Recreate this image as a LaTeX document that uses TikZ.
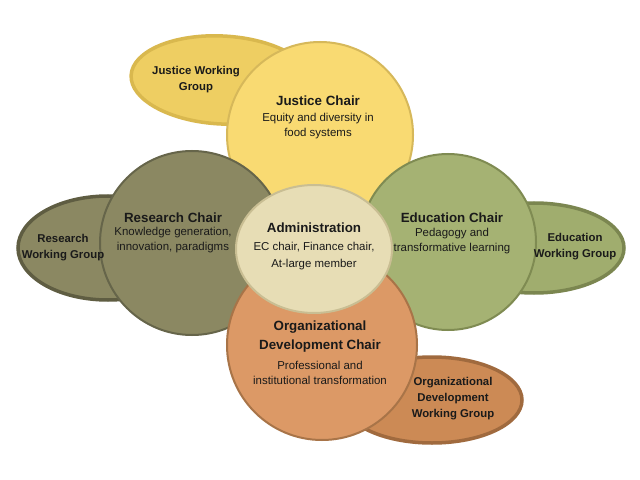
\documentclass[tikz,border=0pt]{standalone}
\usepackage{fontspec}
\setmainfont{Liberation Sans}
\usetikzlibrary{shapes.geometric}
\definecolor{jusF}{HTML}{F9DA72}
\definecolor{jusB}{HTML}{D6B85A}
\definecolor{jwgF}{HTML}{EECE62}
\definecolor{jwgB}{HTML}{D9B84E}
\definecolor{resF}{HTML}{8B8862}
\definecolor{resB}{HTML}{66654A}
\definecolor{rwgB}{HTML}{5F5D42}
\definecolor{eduF}{HTML}{A5B273}
\definecolor{eduB}{HTML}{7F8B52}
\definecolor{ewgF}{HTML}{A0AD6E}
\definecolor{ewgB}{HTML}{7B8650}
\definecolor{orgF}{HTML}{DC9966}
\definecolor{orgB}{HTML}{A87448}
\definecolor{owgF}{HTML}{CC8A55}
\definecolor{owgB}{HTML}{A06A3E}
\definecolor{admF}{HTML}{E7DDB5}
\definecolor{admB}{HTML}{C9BE93}
\definecolor{txt}{HTML}{1A1A1A}
\tikzset{
  chair/.style={circle, draw, line width=2bp, inner sep=0pt, minimum size=#1},
  wg/.style={ellipse, draw, line width=3.5bp, inner sep=0pt},
  ttl/.style={align=center, text=txt, font=\bfseries\fontsize{13.4}{19}\selectfont, inner sep=0pt},
  dsc/.style={align=center, text=txt, font=\fontsize{11.5}{15}\selectfont, inner sep=0pt},
  wgt/.style={align=center, text=txt, font=\bfseries\fontsize{11.4}{16}\selectfont, inner sep=0pt}
}
\begin{document}
\begin{tikzpicture}[x=1bp,y=-1bp]
\useasboundingbox[fill=white] (0,0) rectangle (640,480);
% working groups (behind)
\node[wg, fill=jwgF, draw=jwgB, minimum width=182bp, minimum height=88bp, rotate=-3] (jwg) at (222,80) {};
\node[wg, fill=resF, draw=rwgB, minimum width=180bp, minimum height=104bp] (rwg) at (108,248) {};
\node[wg, fill=ewgF, draw=ewgB, minimum width=180bp, minimum height=90bp] (ewg) at (534,248) {};
\node[wg, fill=owgF, draw=owgB, minimum width=180bp, minimum height=86bp] (owg) at (432,400) {};
% chairs
\node[chair=186bp, fill=jusF, draw=jusB] (jus) at (320,135) {};
\node[chair=184bp, fill=resF, draw=resB] (res) at (192,243) {};
\node[chair=176bp, fill=eduF, draw=eduB] (edu) at (448,242) {};
\node[chair=190bp, fill=orgF, draw=orgB] (org) at (322,345) {};
\node[ellipse, draw=admB, fill=admF, line width=2bp, inner sep=0pt, minimum width=156bp, minimum height=128bp] (adm) at (314,249) {};
% texts
\node[wgt] (jwgT) at (196,79.5) {Justice Working\\Group};
\node[wgt] (rwgT) at (63,247.5) {Research\\Working Group};
\node[wgt] (ewgT) at (575,247) {Education\\Working Group};
\node[wgt] (owgT) at (453,399) {Organizational\\Development\\Working Group};
\node[ttl] (jusT) at (318,101) {Justice Chair};
\node[dsc] (jusD) at (318,126.5) {Equity and diversity in\\food systems};
\node[ttl] (resT) at (173,218) {Research Chair};
\node[dsc] (resD) at (173,240) {Knowledge generation,\\innovation, paradigms};
\node[ttl] (eduT) at (452,218) {Education Chair};
\node[dsc] (eduD) at (452,241) {Pedagogy and\\transformative learning};
\node[ttl] (admT) at (314,228) {Administration};
\node[dsc, font=\fontsize{11.5}{16.5}\selectfont] (admD) at (314,256) {EC chair, Finance chair,\\At-large member};
\node[ttl] (orgT) at (320,336.5) {Organizational\\Development Chair};
\node[dsc] (orgD) at (320,372.5) {Professional and\\institutional transformation};
\end{tikzpicture}
\end{document}
